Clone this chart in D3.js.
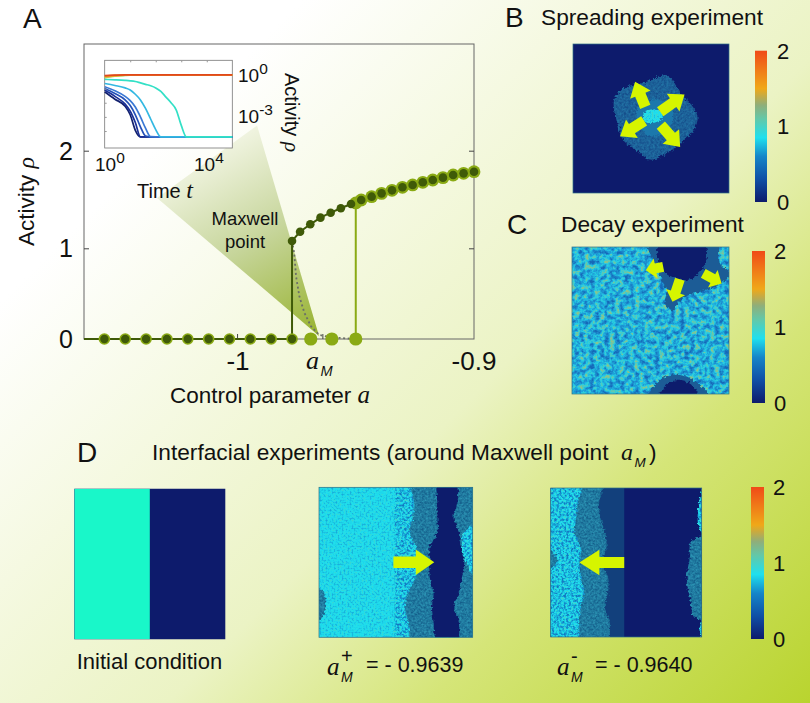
<!DOCTYPE html>
<html>
<head>
<meta charset="utf-8">
<script src="https://cdn.jsdelivr.net/npm/d3@7"></script>
<style>
  html, body { margin: 0; padding: 0; background: #fff; }
  svg { display: block; }
  text { font-family: "Liberation Sans", Arial, sans-serif; fill: #111; }
  .math { font-family: "Liberation Serif", serif; font-style: italic; }
  .sub { font-style: italic; }
</style>
</head>
<body>
<svg id="fig" width="810" height="703"></svg>
<script>
// main curve
const lowerA = [-1.056, -1.0472, -1.0384, -1.0296, -1.0208, -1.012, -1.0032, -0.9944, -0.9856, -0.9768];
const lowerRho = [0, 0, 0, 0, 0, 0, 0, 0, 0, 0];
const offA = [-0.9689, -0.96, -0.9499];
const upperA = [-0.9768, -0.9734, -0.9691, -0.9648, -0.9605, -0.9562, -0.9519, -0.9476, -0.9432, -0.939, -0.9346, -0.9302, -0.9259, -0.9216, -0.9174, -0.9131, -0.9088, -0.9044, -0.9];
const upperRho = [1.075, 1.17, 1.246, 1.314, 1.365, 1.41, 1.454, 1.495, 1.529, 1.563, 1.594, 1.625, 1.649, 1.676, 1.7, 1.724, 1.751, 1.768, 1.785];
const hotStartA = -0.9499, hotStartRho = 1.465;
const unstableA = [-0.9768, -0.9759, -0.9751, -0.9737, -0.9716, -0.9688, -0.9653, -0.9604, -0.9507];
const unstableRho = [1.075, 0.95, 0.69, 0.47, 0.29, 0.14, 0.045, 0.02, 0];
const wedgeA = [-0.9654, -0.99156, -1.03376];
const wedgeRho = [0.033, 2.243, 1.515];

// inset, log10 of time and of activity
const insetLogT = [0, 0.4, 0.8, 1.0, 1.2, 1.4, 1.6, 1.8, 2.0, 2.2, 2.4, 2.6, 2.8, 3.0, 3.2, 3.4, 5];
const insetSeries = [
  [-1.23, -1.75, -2.25, -2.85, -3.95, -4.41, -4.41, -4.41, -4.41, -4.41, -4.41, -4.41, -4.41, -4.41, -4.41, -4.41, -4.41],
  [-1.1, -1.55, -2.1, -2.6, -3.4, -4.41, -4.41, -4.41, -4.41, -4.41, -4.41, -4.41, -4.41, -4.41, -4.41, -4.41, -4.41],
  [-1, -1.35, -1.8, -2.2, -2.85, -3.7, -4.35, -4.41, -4.41, -4.41, -4.41, -4.41, -4.41, -4.41, -4.41, -4.41, -4.41],
  [-0.87, -1.15, -1.55, -1.85, -2.3, -3.0, -3.8, -4.4, -4.41, -4.41, -4.41, -4.41, -4.41, -4.41, -4.41, -4.41, -4.41],
  [-0.64, -0.78, -0.95, -1.1, -1.4, -1.8, -2.4, -3.15, -3.9, -4.41, -4.41, -4.41, -4.41, -4.41, -4.41, -4.41, -4.41],
  [-0.35, -0.38, -0.42, -0.45, -0.5, -0.6, -0.7, -0.8, -0.95, -1.2, -1.6, -2.0, -2.5, -3.6, -4.41, -4.41, -4.41],
  [-0.22, -0.12, -0.07, -0.05, -0.04, -0.03, -0.03, -0.03, -0.03, -0.03, -0.03, -0.03, -0.03, -0.03, -0.03, -0.03, -0.03],
  [-0.17, -0.1, -0.05, -0.04, -0.03, -0.03, -0.03, -0.03, -0.03, -0.03, -0.03, -0.03, -0.03, -0.03, -0.03, -0.03, -0.03],
  [-0.12, -0.07, -0.04, -0.03, -0.03, -0.03, -0.03, -0.03, -0.03, -0.03, -0.03, -0.03, -0.03, -0.03, -0.03, -0.03, -0.03],
  [-0.08, -0.05, -0.03, -0.03, -0.03, -0.03, -0.03, -0.03, -0.03, -0.03, -0.03, -0.03, -0.03, -0.03, -0.03, -0.03, -0.03]
];
const insetColors = ["#12206e", "#1a2f96", "#2450b8", "#3a78d4", "#33b8e2", "#33e0c6", "#9fd060", "#f0c030", "#f08a20", "#e0481c"];

// colour bar
const barStops = [0, 0.3, 0.6, 0.85, 1.1, 1.28, 1.5, 1.75, 2];
const barColors = ["#0d1b6c", "#0f4fa5", "#1585c8", "#1fe0ee", "#63c8a8", "#8fae7a", "#f0a818", "#f07a18", "#f04a18"];
const barTicks = [0, 1, 2];

// panel B, lattice coordinates 0-100
const bOuter = [[60.2, 20.9], [66.6, 28.7], [70.9, 35.4], [75.2, 39.9], [79.9, 48.9], [77.3, 57.8], [68.7, 66.8], [58, 74.7], [49.5, 77.6], [40.9, 71.3], [32.3, 64.6], [29.1, 55.6], [26.3, 37.7], [32.3, 29.8], [47.3, 25.3]];
const bInner = [[42, 42], [52, 37], [62, 42], [64, 52], [58, 60], [50, 62], [44, 57], [41, 50]];
const bCore = [[45, 47], [50, 44], [57, 46], [57, 50], [51, 53], [46, 52]];
const bArrows = [[46.3, 42.2, 39.8, 25.3], [55.9, 45.5, 71.5, 33.9], [45.6, 51.6, 30.2, 61.9], [56.3, 54.5, 68.7, 69.1]];

// panel C
const cTopOuter = [[48.5, -3], [51.7, 9], [56, 19.2], [60.2, 30.5], [59.1, 38.4], [64.5, 42.9], [67.7, 37.2], [75.1, 32.7], [87.9, 28.2], [96.4, 23.7], [101, 18], [94.3, 11.3], [92.1, -3]];
const cTopInner = [[56, -3], [54.9, 9], [60.2, 18], [73, 22.6], [81.5, 16.9], [85.7, 9], [83.6, -3]];
const cLowOuter = [[48.5, 103], [54.9, 91.4], [63.4, 86.9], [75.1, 89.2], [85.7, 98.2], [87.9, 103]];
const cLowInner = [[56, 103], [60.2, 93.7], [68.7, 90.3], [77.2, 94.8], [80.4, 103]];
const cArrows = [[58.1, 13.5, 47, 15.8], [68.7, 21.9, 64, 37.2], [83.6, 18, 95.3, 24.8]];

// panel D, front positions at eleven heights
const dLevels = [-3, 10, 20, 30, 40, 50, 60, 70, 80, 90, 103];
const plusEdge1 = [49, 49, 48.5, 49, 49, 48.5, 49, 49.5, 49, 49, 49];
const plusEdge2 = [58, 62, 61, 59, 63, 64, 63, 58, 56, 58, 59];
const plusEdge3 = [76, 77, 77, 77, 72, 72, 72, 74.5, 73.5, 74.5, 75.6];
const plusEdge4 = [91, 90, 87.5, 91, 93, 94.5, 93, 91, 88, 91, 91];
const plusRightPatch = [[103, 25], [94, 30], [93, 39], [95, 48], [103, 62]];
const plusLeftPatch = [[-3, 66], [3.5, 71], [2.5, 86], [-3, 90]];
const plusArrow = [48.4, 50, 75, 50];
const minusEdge1 = [22, 18, 17, 16, 20, 19, 20, 22, 20, 19, 19];
const minusEdge2 = [36, 32, 33, 36, 37, 34, 38, 38, 36, 39, 39];
const minusSplit = 48.7;
const minusRightTeal = [[103, 33], [93, 36], [92, 47], [90, 61], [92, 73], [95, 86], [103, 88]];
const minusRightTop = [[103, -3], [98.5, 8], [98, 26], [103, 33]];
const minusRightLow = [[103, 86], [98.5, 95], [103, 103]];
const minusLeftPatch = [[-3, 39], [4.5, 49], [-3, 56]];
const minusArrow = [48.7, 50, 19, 50];

const svg = d3.select("#fig");
const defs = svg.append("defs");

const activityColor = d3.scaleLinear().domain(barStops).range(barColors);

// page background
const bg = defs.append("linearGradient").attr("id", "pageBg")
  .attr("gradientUnits", "userSpaceOnUse")
  .attr("x1", 0).attr("y1", 0).attr("x2", 756).attr("y2", 756);
[[0.2, "#ffffff"], [0.575, "#ebf3c4"], [0.747, "#d5e578"], [1, "#b9d42f"]].forEach(([o, c]) =>
  bg.append("stop").attr("offset", o).attr("stop-color", c));
svg.append("rect").attr("width", 810).attr("height", 703).attr("fill", "url(#pageBg)");

// noise filter, turns a shape into a speckled patch running through a colour ramp
function noiseFilter(id, ramp, freq, seed) {
  const f = defs.append("filter").attr("id", id)
    .attr("x", "-5%").attr("y", "-5%").attr("width", "110%").attr("height", "110%")
    .attr("color-interpolation-filters", "sRGB");
  f.append("feTurbulence").attr("type", "fractalNoise").attr("baseFrequency", freq)
    .attr("numOctaves", 4).attr("seed", seed).attr("result", "n");
  f.append("feDisplacementMap").attr("in", "SourceAlpha").attr("in2", "n").attr("scale", 5)
    .attr("xChannelSelector", "R").attr("yChannelSelector", "G").attr("result", "shape");
  f.append("feColorMatrix").attr("in", "n").attr("type", "matrix")
    .attr("values", "1.7 0 0 0 -0.35  1.7 0 0 0 -0.35  1.7 0 0 0 -0.35  0 0 0 0 1").attr("result", "g");
  f.append("feGaussianBlur").attr("in", "g").attr("stdDeviation", 0.5).attr("result", "b");
  const samples = d3.range(17).map(i => d3.rgb(ramp(i / 16)));
  const ct = f.append("feComponentTransfer").attr("in", "b").attr("result", "c");
  ["R", "G", "B"].forEach((ch, k) => {
    const key = ["r", "g", "b"][k];
    ct.append("feFunc" + ch).attr("type", "table")
      .attr("tableValues", samples.map(s => (s[key] / 255).toFixed(3)).join(" "));
  });
  f.append("feComposite").attr("in", "c").attr("in2", "shape").attr("operator", "in");
}
const mapRamp = (lo, hi) => t => activityColor(lo + (hi - lo) * t);
noiseFilter("nCyanFine", mapRamp(0.7, 0.96), 0.5, 3);
noiseFilter("nCyanRough", mapRamp(0.52, 1.0), 0.42, 5);
noiseFilter("nTeal", d3.interpolateRgb("#14608c", "#2c94b4"), 0.45, 7);
noiseFilter("nBlob", d3.interpolateRgb("#164f8c", "#2274a6"), 0.45, 9);
noiseFilter("nDecay", d3.scaleLinear().domain([0, 0.4, 0.65, 1]).range(["#1668b8", "#1f9ed8", "#25cfe4", "#8cc48c"]), 0.2, 11);
noiseFilter("nCore", mapRamp(0.72, 1.0), 0.5, 13);

// rough fronts for the flat coloured parts
const rough = defs.append("filter").attr("id", "rough")
  .attr("x", "-5%").attr("y", "-5%").attr("width", "110%").attr("height", "110%");
rough.append("feTurbulence").attr("type", "fractalNoise").attr("baseFrequency", 0.35)
  .attr("numOctaves", 2).attr("seed", 4).attr("result", "n");
rough.append("feDisplacementMap").attr("in", "SourceGraphic").attr("in2", "n").attr("scale", 5)
  .attr("xChannelSelector", "R").attr("yChannelSelector", "G");

function makePanel(id, x0, x1, y0, y1) {
  const clip = defs.append("clipPath").attr("id", id);
  clip.append("rect").attr("x", x0).attr("y", y0).attr("width", x1 - x0).attr("height", y1 - y0);
  return {
    g: svg.append("g").attr("clip-path", `url(#${id})`),
    x: d3.scaleLinear().domain([0, 100]).range([x0, x1]),
    y: d3.scaleLinear().domain([0, 100]).range([y0, y1]),
    box: [x0, x1, y0, y1]
  };
}
function applyStyle(el, style, plain) {
  if (/^n[A-Z]/.test(style)) el.attr("fill", "#000").attr("filter", `url(#${style})`);
  else {
    el.attr("fill", style);
    if (!plain) el.attr("filter", "url(#rough)");
  }
}
function blob(p, pts, style) {
  const line = d3.line().x(d => p.x(d[0])).y(d => p.y(d[1])).curve(d3.curveCatmullRomClosed);
  applyStyle(p.g.append("path").attr("d", line(pts)), style);
}
function strip(p, left, right, style, plain) {
  const area = d3.area().y(d => p.y(d)).x0((d, i) => p.x(left(i))).x1((d, i) => p.x(right(i)))
    .curve(d3.curveCatmullRom);
  applyStyle(p.g.append("path").attr("d", area(dLevels)), style, plain);
}
function base(p, style) {
  const r = p.g.append("rect")
    .attr("x", p.x(-4)).attr("y", p.y(-4))
    .attr("width", p.x(104) - p.x(-4)).attr("height", p.y(104) - p.y(-4));
  applyStyle(r, style, true);
}
function arrows(p, list, shaft, head, headLen) {
  list.forEach(([u0, v0, u1, v1]) => {
    const x0 = p.x(u0), y0 = p.y(v0), x1 = p.x(u1), y1 = p.y(v1);
    const a = Math.atan2(y1 - y0, x1 - x0) * 180 / Math.PI;
    const len = Math.hypot(x1 - x0, y1 - y0);
    const shape = [[0, -shaft], [len - headLen, -shaft], [len - headLen, -head], [len, 0], [len - headLen, head], [len - headLen, shaft], [0, shaft]];
    svg.append("path").attr("d", d3.line()(shape) + "Z")
      .attr("transform", `translate(${x0},${y0}) rotate(${a})`)
      .attr("fill", "#d6f500");
  });
}
function frame(p) {
  const [x0, x1, y0, y1] = p.box;
  svg.append("rect").attr("x", x0).attr("y", y0).attr("width", x1 - x0).attr("height", y1 - y0)
    .attr("fill", "none").attr("stroke", "#2f6f86").attr("stroke-width", 0.7);
}
function colorBar(id, x, w, y0, y1, labelX) {
  const grad = defs.append("linearGradient").attr("id", id).attr("x1", 0).attr("y1", 1).attr("x2", 0).attr("y2", 0);
  barStops.forEach((s, i) => grad.append("stop").attr("offset", s / 2).attr("stop-color", barColors[i]));
  const scale = d3.scaleLinear().domain([0, 2]).range([y1, y0]);
  svg.append("rect").attr("x", x).attr("y", y0).attr("width", w).attr("height", y1 - y0).attr("fill", `url(#${id})`);
  svg.append("g").selectAll("text").data(barTicks).join("text")
    .attr("x", labelX).attr("y", d => scale(d) + 8).attr("font-size", 22).text(d => d);
}
function txt(x, y, s, size, opts = {}) {
  const t = svg.append("text").attr("x", x).attr("y", y).attr("font-size", size).text(s);
  if (opts.anchor) t.attr("text-anchor", opts.anchor);
  if (opts.math) t.attr("class", "math");
  if (opts.rotate !== undefined) t.attr("transform", `rotate(${opts.rotate} ${x} ${y})`);
  return t;
}
function aM(x, y, size, sup) {
  txt(x, y, "a", size, { math: true });
  txt(x + size * 0.56, y + size * 0.28, "M", size * 0.56).attr("class", "sub");
  if (sup) txt(x + size * 0.56, y - size * 0.5, sup, size * 0.8);
}

// panel A
const x = d3.scaleLinear().domain([-1.0646, -0.9]).range([84, 474]);
const y = d3.scaleLinear().domain([0, 1, 2, 3.03]).range([339, 248.3, 150.7, 44]);

const wedgeGrad = defs.append("linearGradient").attr("id", "wedge")
  .attr("gradientUnits", "userSpaceOnUse")
  .attr("x1", x(wedgeA[0])).attr("y1", y(wedgeRho[0]))
  .attr("x2", 205).attr("y2", 140);
wedgeGrad.append("stop").attr("offset", 0).attr("stop-color", "#97b22e");
wedgeGrad.append("stop").attr("offset", 0.5).attr("stop-color", "#c6d59a");
wedgeGrad.append("stop").attr("offset", 1).attr("stop-color", "#f6f8ea");
svg.append("path")
  .attr("d", d3.line().x(d => x(d[0])).y(d => y(d[1]))(d3.zip(wedgeA, wedgeRho)) + "Z")
  .attr("fill", "url(#wedge)");

svg.append("rect").attr("x", 84).attr("y", 44).attr("width", 390).attr("height", 295)
  .attr("fill", "none").attr("stroke", "#666").attr("stroke-width", 1);

const axisY = d3.axisLeft(y).tickValues([0, 1, 2]).tickSize(-5).tickFormat("");
const axisYR = d3.axisRight(y).tickValues([1, 2]).tickSize(-5).tickFormat("");
const axisX = d3.axisBottom(x).tickValues([-1, -0.964]).tickSize(-5).tickFormat("");
[[axisY, "translate(84,0)"], [axisYR, "translate(474,0)"], [axisX, "translate(0,339)"]].forEach(([ax, tr]) => {
  const g = svg.append("g").attr("transform", tr).call(ax);
  g.select(".domain").remove();
  g.selectAll("line").attr("stroke", "#444");
});

[0, 1, 2].forEach(v => txt(73, y(v) + 9, v, 25, { anchor: "end" }));
txt(238, 370, "-1", 26, { anchor: "middle" });
txt(474, 370, "-0.9", 26, { anchor: "middle" });
aM(306, 369, 26);
const xl = txt(270, 403, "Control parameter ", 22.5, { anchor: "middle" });
xl.append("tspan").attr("class", "math").attr("font-size", 25).text("a");
const yl = txt(34, 246, "Activity ", 22.5, { rotate: -90 });
yl.append("tspan").attr("class", "math").attr("font-size", 24).text("ρ");

const mainLine = d3.line().x(d => x(d[0])).y(d => y(d[1]));
const DARK = "#3f5a08", LIGHT = "#8aaa14";

// lines under the points
svg.append("path").attr("d", mainLine(d3.zip(unstableA, unstableRho)))
  .attr("fill", "none").attr("stroke", "#6b6f68").attr("stroke-width", 1.8).attr("stroke-dasharray", "2 2.6");
svg.append("line").attr("x1", 84).attr("x2", x(lowerA[9])).attr("y1", y(0)).attr("y2", y(0))
  .attr("stroke", DARK).attr("stroke-width", 1.8);
svg.append("line").attr("x1", x(hotStartA)).attr("x2", x(hotStartA)).attr("y1", y(0)).attr("y2", y(hotStartRho))
  .attr("stroke", LIGHT).attr("stroke-width", 2);
svg.append("line").attr("x1", x(upperA[0])).attr("x2", x(upperA[0])).attr("y1", y(0)).attr("y2", y(upperRho[0]))
  .attr("stroke", DARK).attr("stroke-width", 2);
svg.append("path").attr("d", mainLine(d3.zip(upperA, upperRho))).attr("fill", "none").attr("stroke", DARK).attr("stroke-width", 2);

// forward sweep (light) and backward sweep (dark)
const lightUpper = [[hotStartA, hotStartRho]].concat(d3.zip(upperA, upperRho).filter(d => d[0] > hotStartA));
function dots(data, r, color) {
  svg.append("g").selectAll("circle").data(data).join("circle")
    .attr("cx", d => x(d[0])).attr("cy", d => y(d[1])).attr("r", r).attr("fill", color);
}
dots(d3.zip(lowerA, lowerRho), 5.8, LIGHT);
dots(offA.map(a => [a, 0]), 6.6, LIGHT);
dots(lightUpper, 6.4, LIGHT);
dots(d3.zip(lowerA, lowerRho), 4.2, DARK);
dots(d3.zip(upperA, upperRho), 4.3, DARK);

// inset
const insetX = d3.scaleLinear().domain([0, 5]).range([104.7, 232.3]);
const insetY = d3.scaleLinear().domain([-5.2, 1]).range([148, 60.3]);
svg.append("rect").attr("x", 104.7).attr("y", 60.3).attr("width", 127.6).attr("height", 87.7)
  .attr("fill", "#fff").attr("stroke", "#777").attr("stroke-width", 0.8);
const insetLine = d3.line().x((d, i) => insetX(insetLogT[i])).y(d => insetY(d)).curve(d3.curveMonotoneX);
svg.append("g").selectAll("path").data(insetSeries).join("path")
  .attr("d", insetLine).attr("fill", "none").attr("stroke-width", 1.7)
  .attr("stroke", (d, i) => insetColors[i]);
const inTop = d3.axisTop(insetX).tickValues([1, 2, 3, 4]).tickSize(-2).tickFormat("");
const inLeft = d3.axisLeft(insetY).tickValues([-1, -2, -3, -4]).tickSize(-2).tickFormat("");
[[inTop, "translate(0,60.3)"], [inLeft, "translate(104.7,0)"]].forEach(([ax, tr]) => {
  const g = svg.append("g").attr("transform", tr).call(ax);
  g.select(".domain").remove();
  g.selectAll("line").attr("stroke", "#999");
});
function power(px, py, exp) {
  const t = txt(px, py, "10", 19);
  t.append("tspan").attr("font-size", 15.5).attr("dy", -8).text(exp);
}
power(238, 82, "0");
power(238, 123, "-3");
power(95, 171, "0");
power(194, 171, "4");
const tl = txt(137, 198, "Time ", 20);
tl.append("tspan").attr("class", "math").attr("font-size", 24).text("t");
const al = txt(285, 73, "Activity ", 20, { rotate: 90 });
al.append("tspan").attr("class", "math").attr("font-size", 21).text("ρ");
txt(245, 225, "Maxwell", 18.5, { anchor: "middle" });
txt(245, 248, "point", 18.5, { anchor: "middle" });

// panel letters and titles
txt(23, 28, "A", 28);
txt(505, 27, "B", 28);
txt(541, 25, "Spreading experiment", 22.7);
txt(507, 234, "C", 28);
txt(561, 232, "Decay experiment", 22.7);
txt(77, 462, "D", 28);
txt(152, 460, "Interfacial experiments (around Maxwell point", 22.7);
aM(621, 460, 24);
txt(649, 460, ")", 22.7);

// panel B
const pB = makePanel("clipB", 573, 729, 44, 193);
base(pB, "#0d1b6c");
blob(pB, bOuter, "nBlob");
blob(pB, bInner, "#1a78ac");
blob(pB, bCore, "nCore");
frame(pB);
arrows(pB, bArrows, 5.5, 11, 14);
colorBar("barB", 755, 12, 50.7, 202, 777);

// panel C
const pC = makePanel("clipC", 572, 729, 247, 394);
base(pC, "nDecay");
blob(pC, cTopOuter, "#1a5c96");
blob(pC, cTopInner, "#0d1b6c");
blob(pC, cLowOuter, "#1a5c96");
blob(pC, cLowInner, "#0d1b6c");
frame(pC);
arrows(pC, cArrows, 5, 10, 10);
colorBar("barC", 752, 13, 251, 403, 774);

// panel D, initial condition
const pInit = makePanel("clipInit", 74.3, 225.3, 488.7, 639.3);
base(pInit, "#0d1b6c");
pInit.g.append("rect").attr("x", pInit.x(0)).attr("y", pInit.y(0))
  .attr("width", pInit.x(50) - pInit.x(0)).attr("height", pInit.y(100) - pInit.y(0))
  .attr("fill", "#19f7c9");
txt(76.7, 669, "Initial condition", 22);

// panel D, above the Maxwell point
const pPlus = makePanel("clipPlus", 319, 472.7, 487.3, 637.3);
base(pPlus, "nCyanFine");
strip(pPlus, i => plusEdge1[i], i => plusEdge2[i], "nCyanRough");
strip(pPlus, i => plusEdge2[i], i => 103, "nTeal");
strip(pPlus, i => plusEdge3[i], i => plusEdge4[i], "#0d1b6c");
blob(pPlus, plusRightPatch, "nCyanRough");
blob(pPlus, plusLeftPatch, "nTeal");
frame(pPlus);
arrows(pPlus, [plusArrow], 5.7, 12.7, 18.5);
aM(327, 675, 25, "+");
txt(366, 672, "= - 0.9639", 21.5);

// panel D, below the Maxwell point
const pMinus = makePanel("clipMinus", 550.7, 701.7, 488, 637);
base(pMinus, "#0d1b6c");
strip(pMinus, i => 25, i => minusSplit, "#12407c", true);
strip(pMinus, i => -3, i => minusEdge2[i], "nTeal");
strip(pMinus, i => -3, i => minusEdge1[i], "nCyanRough");
blob(pMinus, minusRightTeal, "nTeal");
blob(pMinus, minusRightTop, "nCyanRough");
blob(pMinus, minusRightLow, "nCyanRough");
blob(pMinus, minusLeftPatch, "nTeal");
frame(pMinus);
arrows(pMinus, [minusArrow], 5.4, 12.7, 20);
aM(557, 675, 25, "-");
txt(595, 672, "= - 0.9640", 21.5);

colorBar("barD", 751, 13, 487, 639, 773);
</script>
</body>
</html>
